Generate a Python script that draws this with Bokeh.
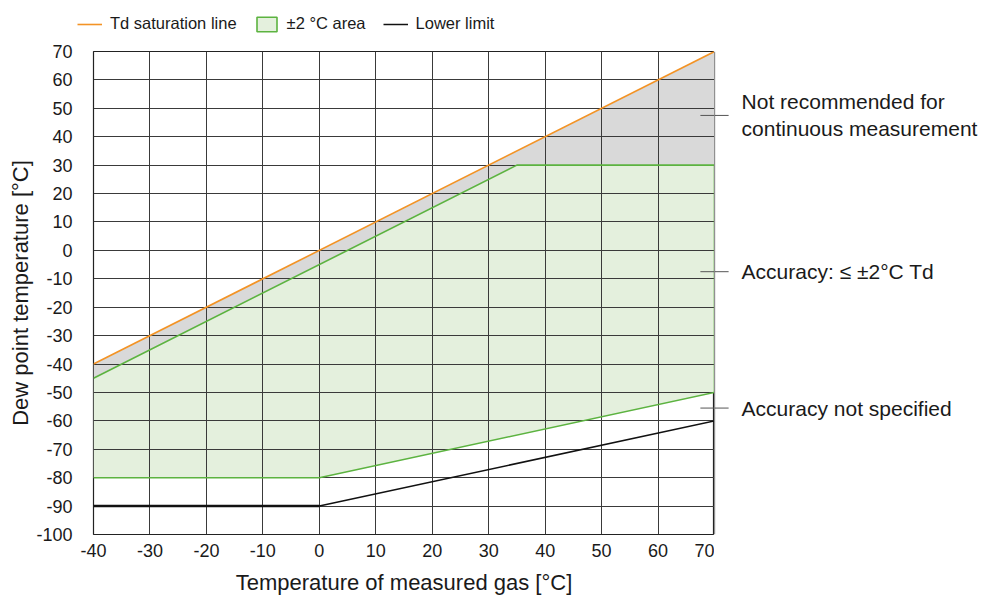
from bokeh.plotting import figure
from bokeh.layouts import column, row
from bokeh.models import Range1d, Legend, LegendItem, FixedTicker, Span
from bokeh.core.properties import value
from bokeh.embed import file_html
from bokeh.resources import INLINE

# Dew point sensor operating range
sat_x = [-40, 70]
sat_y = [-40, 70]

area_x = [-40, 35, 70, 70, 0, -40]
area_y = [-45, 30, 30, -50, -80, -80]

gray_x = [-40, 70, 70, 35, -40]
gray_y = [-40, 70, 30, 30, -45]

low_x = [-40, 0, 70]
low_y = [-90, -90, -60]

x_ticks = list(range(-40, 71, 10))
y_ticks = list(range(-100, 71, 10))

notes = ["Not recommended for\ncontinuous measurement",
         "Accuracy: \u2264 \u00b12\u00b0C Td",
         "Accuracy not specified"]
note_y = [47.5, -7.5, -55.5]

FONT = "Liberation Sans"
TEXT = "#1a1a1a"
ORANGE = "#f39325"
GREEN = "#5cb340"
GREEN_FILL = "#e4f0dd"
GRAY_FILL = "#d9d9d9"
LEADER = "#555555"
FRAME = "#222222"
GRID = "#3a3a3a"

TOP_H = 40
MAIN_W = 714
LEFT = 93
BODY_H = 599 - TOP_H
BORDER_TOP = 11
BORDER_BOTTOM = 65

x_lo, x_hi = x_ticks[0], x_ticks[-1]
px_per_unit = (MAIN_W - LEFT) / (x_hi - x_lo)
side_w = 983 - MAIN_W

y_range = Range1d(y_ticks[0], y_ticks[-1])


def style_axis(ax):
    ax.axis_line_color = None
    ax.major_tick_line_color = None
    ax.minor_tick_line_color = None
    ax.major_tick_out = 0
    ax.major_tick_in = 0
    ax.minor_tick_out = 0
    ax.major_label_text_font = FONT
    ax.major_label_text_font_size = "18px"
    ax.major_label_text_color = TEXT
    ax.axis_label_text_font = FONT
    ax.axis_label_text_font_size = "22px"
    ax.axis_label_text_font_style = "normal"
    ax.axis_label_text_color = TEXT


# ---- main chart ----
p = figure(width=MAIN_W, height=BODY_H, output_backend="svg", toolbar_location=None,
           x_range=Range1d(x_lo, x_hi), y_range=y_range,
           min_border_left=LEFT, min_border_right=0,
           min_border_top=BORDER_TOP, min_border_bottom=BORDER_BOTTOM)

p.outline_line_color = FRAME
p.outline_line_width = 1.2
for g in (p.xgrid, p.ygrid):
    g.grid_line_color = GRID
    g.grid_line_width = 1
p.xgrid.ticker = FixedTicker(ticks=x_ticks)
p.ygrid.ticker = FixedTicker(ticks=y_ticks)

style_axis(p.xaxis[0])
style_axis(p.yaxis[0])
p.xaxis.ticker = FixedTicker(ticks=x_ticks)
p.yaxis.ticker = FixedTicker(ticks=y_ticks)
p.xaxis.major_label_overrides = {t: str(t) for t in x_ticks}
p.yaxis.major_label_overrides = {t: str(t) for t in y_ticks}
p.xaxis.major_label_standoff = 9
p.yaxis.major_label_standoff = 21
p.xaxis.axis_label = "Temperature of measured gas [\u00b0C]"
p.yaxis.axis_label = "Dew point temperature [\u00b0C]"
p.xaxis.axis_label_standoff = 10
p.yaxis.axis_label_standoff = 0

# filled regions sit beneath the grid
p.patch(gray_x, gray_y, fill_color=GRAY_FILL, line_color=None, level="image")
p.patch(area_x, area_y, fill_color=GREEN_FILL, line_color=None, level="image")
p.line(area_x[:4], area_y[:4], line_color=GREEN, line_width=1.6)
p.line(area_x[3:], area_y[3:], line_color=GREEN, line_width=1.6)

p.line(sat_x, sat_y, line_color=ORANGE, line_width=1.6)
p.line(low_x, low_y, line_color="#111111", line_width=1.5)
p.line(low_x[:2], low_y[:2], line_color="#111111", line_width=2.5)

# leader ticks begin inside the plot area and continue in the notes panel
lead_x0, lead_x1, note_x = x_hi - 2.5, x_hi + 2.5, x_hi + 4.8
p.segment(x0=[lead_x0] * len(note_y), x1=[x_hi] * len(note_y), y0=note_y, y1=note_y,
          line_color=LEADER, line_width=1)

# ---- notes panel, continuing the x scale past the right edge ----
s = figure(width=side_w, height=BODY_H, output_backend="svg", toolbar_location=None,
           x_range=Range1d(x_hi, x_hi + side_w / px_per_unit), y_range=y_range,
           x_axis_type=None, y_axis_type=None,
           min_border_left=0, min_border_right=0,
           min_border_top=BORDER_TOP, min_border_bottom=BORDER_BOTTOM)
s.outline_line_color = None
s.grid.visible = False
s.add_layout(Span(location=x_hi, dimension="height", line_color=FRAME, line_width=1.2))
s.segment(x0=[x_hi] * len(note_y), x1=[lead_x1] * len(note_y), y0=note_y, y1=note_y,
          line_color=LEADER, line_width=1)
s.text(x=[note_x] * len(note_y), y=note_y, text=notes, text_font=value(FONT),
       text_font_size="21px", text_color=TEXT, text_baseline="middle",
       text_align="left", text_line_height=1.18)

# ---- legend strip above the chart ----
t = figure(width=983, height=TOP_H, output_backend="svg", toolbar_location=None,
           x_range=Range1d(1000, 1001), y_range=Range1d(1000, 1001),
           x_axis_type=None, y_axis_type=None,
           min_border_left=0, min_border_right=0, min_border_top=0, min_border_bottom=0)
t.outline_line_color = None
t.grid.visible = False
r_sat = t.line(sat_x, sat_y, line_color=ORANGE, line_width=1.6)
r_area = t.patch(area_x, area_y, fill_color=GREEN_FILL, line_color=GREEN, line_width=1.6)
r_low = t.line(low_x, low_y, line_color="#111111", line_width=1.5)

legend = Legend(items=[
    LegendItem(label="Td saturation line", renderers=[r_sat]),
    LegendItem(label="\u00b12 \u00b0C area", renderers=[r_area]),
    LegendItem(label="Lower limit", renderers=[r_low]),
], orientation="horizontal", location=(77, 7),
    label_text_font=FONT, label_text_font_size="16.5px", label_text_color=TEXT,
    glyph_width=25, glyph_height=18, label_height=18, label_standoff=8, spacing=17,
    padding=0, margin=0, border_line_color=None, background_fill_alpha=0)
t.add_layout(legend, "center")

layout = column(t, row(p, s, spacing=0), spacing=0)
open("out.html", "w").write(file_html(layout, INLINE))
